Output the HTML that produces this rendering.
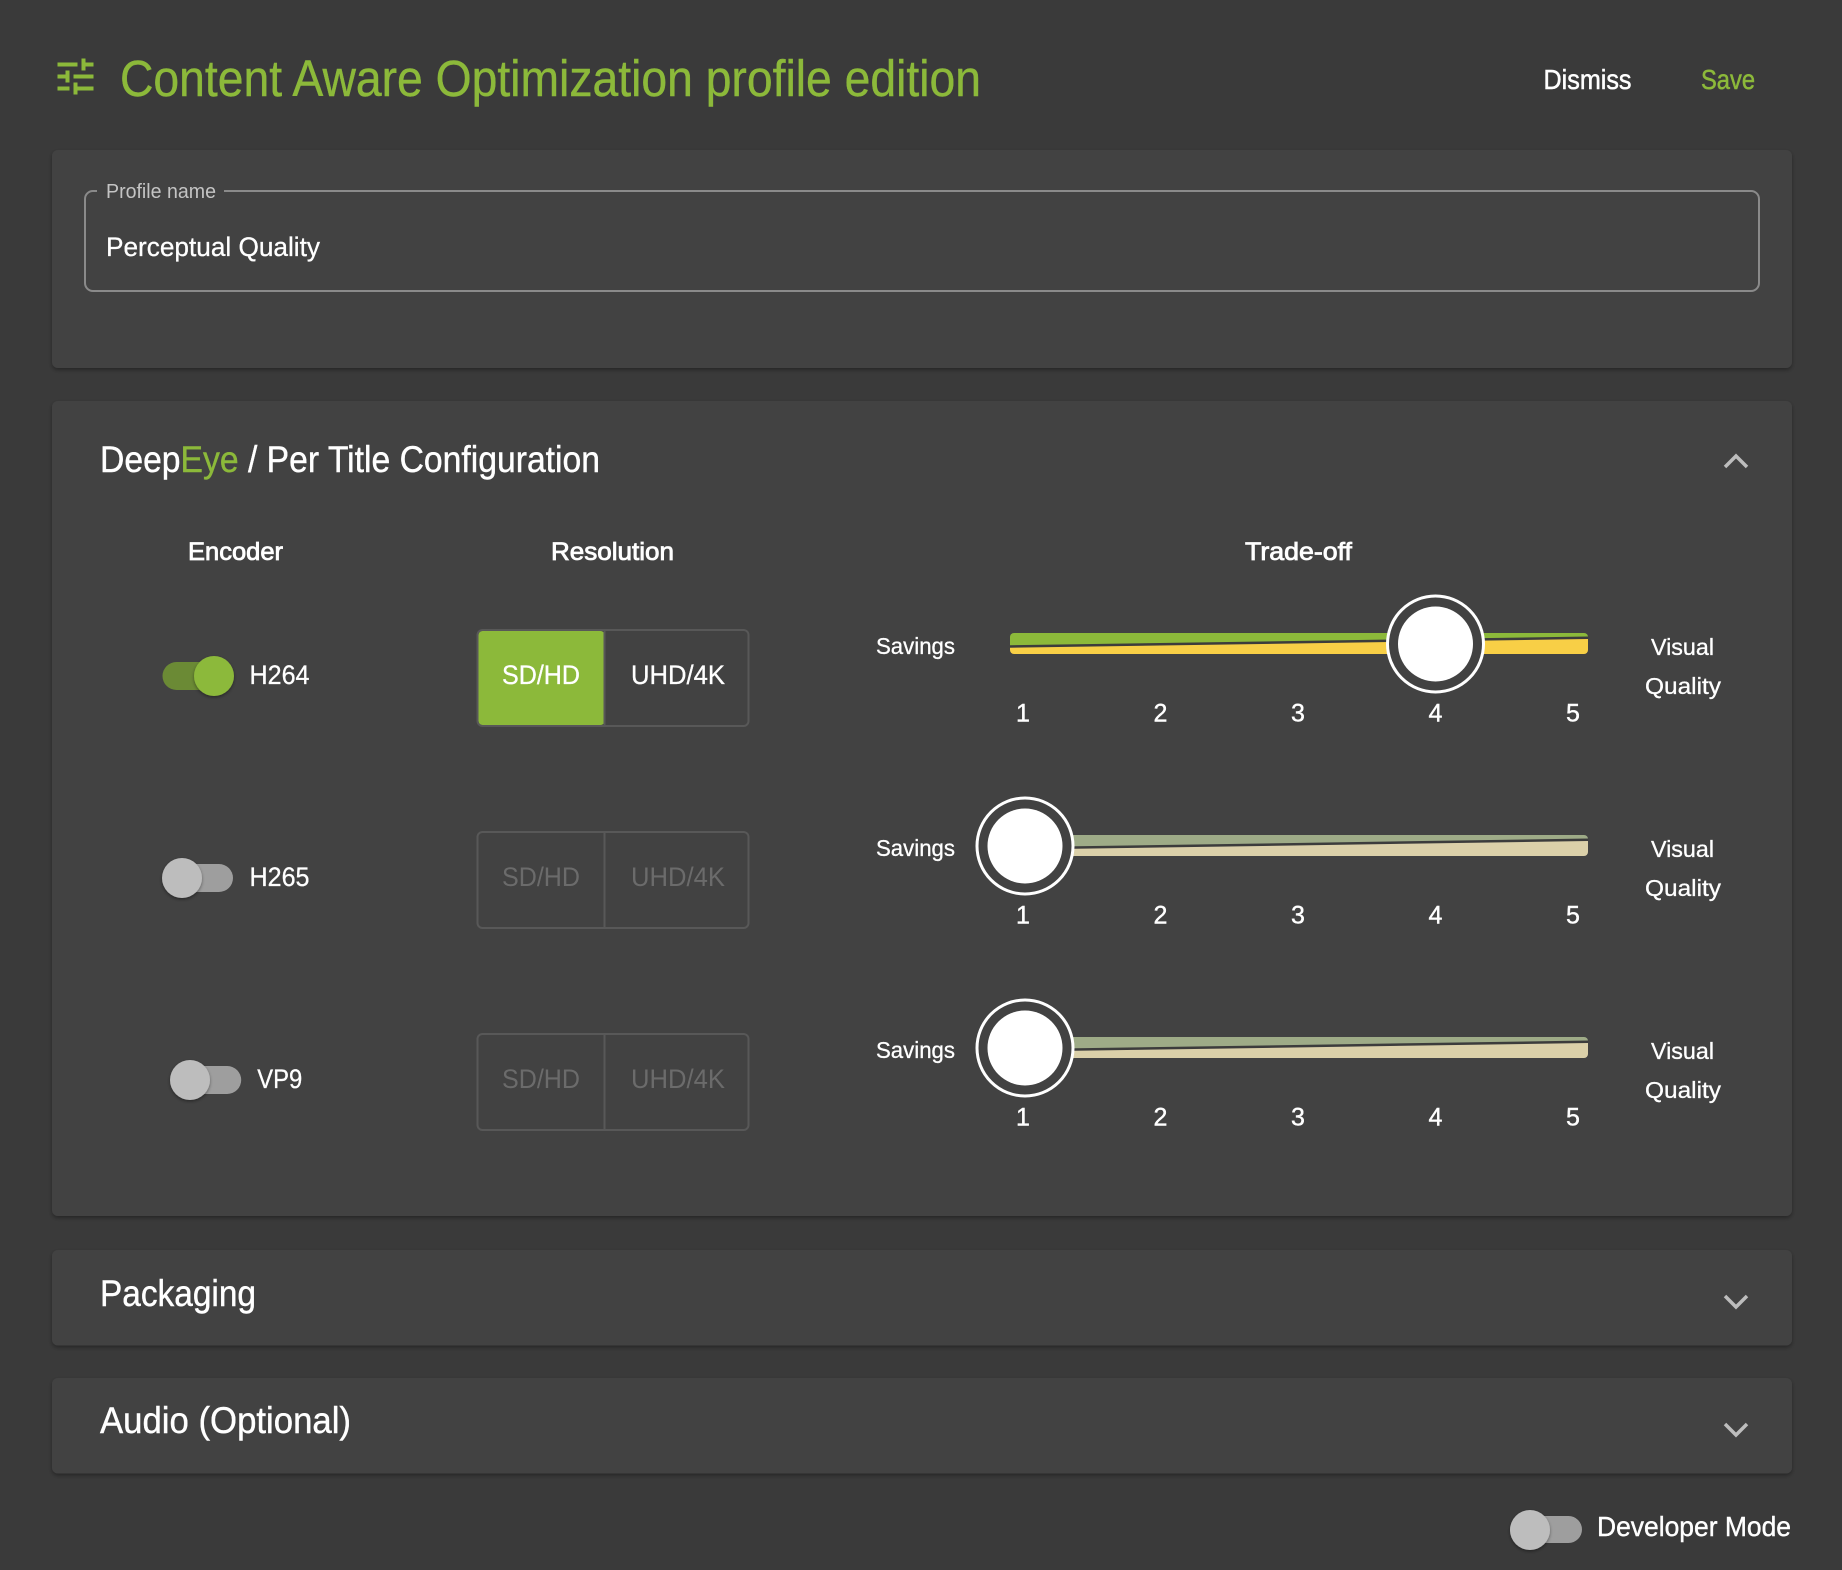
<!DOCTYPE html>
<html><head><meta charset="utf-8">
<style>html,body{margin:0;padding:0;background:#3a3a3a;}svg{display:block}</style>
</head>
<body>
<svg width="1842" height="1570" viewBox="0 0 1842 1570" xmlns="http://www.w3.org/2000/svg" font-family="'Liberation Sans', sans-serif">
<defs>
  <filter id="sh" x="-5%" y="-20%" width="110%" height="140%">
    <feDropShadow dx="0" dy="2" stdDeviation="2" flood-color="#000" flood-opacity="0.35"/>
  </filter>
  <filter id="tsh" x="-50%" y="-50%" width="200%" height="200%">
    <feDropShadow dx="0" dy="1.5" stdDeviation="1.5" flood-color="#000" flood-opacity="0.4"/>
  </filter>
  <clipPath id="trk1"><rect x="1010" y="633" width="578" height="21" rx="4"/></clipPath>
  <clipPath id="trk2"><rect x="1010" y="835" width="578" height="21" rx="4"/></clipPath>
  <clipPath id="trk3"><rect x="1010" y="1037" width="578" height="21" rx="4"/></clipPath>
</defs>
<rect width="1842" height="1570" fill="#3a3a3a"/>

<!-- Header -->
<g transform="translate(51.5,52.5) scale(2)" fill="#8cb93a">
  <path d="M3 17v2h6v-2H3zM3 5v2h10V5H3zm10 16v-2h8v-2h-8v-2h-2v6h2zM7 9v2H3v2h4v2h2V9H7zm14 4v-2H11v2h10zm-6-4h2V7h4V5h-4V3h-2v6z"/>
</g>
<text x="120" y="96" font-size="51" fill="#8cb93a" stroke="#8cb93a" stroke-width="0.4" textLength="861" lengthAdjust="spacingAndGlyphs">Content Aware Optimization profile edition</text>
<text x="1543.5" y="89" font-size="28" fill="#ffffff" stroke="#ffffff" stroke-width="0.5" textLength="88" lengthAdjust="spacingAndGlyphs">Dismiss</text>
<text x="1701" y="89" font-size="28" fill="#8cb93a" stroke="#8cb93a" stroke-width="0.5" textLength="54" lengthAdjust="spacingAndGlyphs">Save</text>

<!-- Card 1 -->
<rect x="52" y="150" width="1740" height="218" rx="6" fill="#424242" filter="url(#sh)"/>
<rect x="85" y="191" width="1674" height="100" rx="8" fill="none" stroke="#8a8a8a" stroke-width="2"/>
<rect x="97" y="185" width="127" height="12" fill="#424242"/>
<text x="106" y="198" font-size="20" fill="#c4c4c4" textLength="110" lengthAdjust="spacingAndGlyphs">Profile name</text>
<text x="106" y="256" font-size="27" fill="#ffffff" stroke="#ffffff" stroke-width="0.3" textLength="214" lengthAdjust="spacingAndGlyphs">Perceptual Quality</text>

<!-- Card 2 -->
<rect x="52" y="401" width="1740" height="815" rx="6" fill="#424242" filter="url(#sh)"/>
<text x="100" y="472" font-size="37" fill="#ffffff" stroke="#ffffff" stroke-width="0.4" textLength="500" lengthAdjust="spacingAndGlyphs">Deep<tspan fill="#8cb93a" stroke="#8cb93a">Eye</tspan> / Per Title Configuration</text>
<polyline points="1725,467 1736,456 1747,467" fill="none" stroke="#bdbdbd" stroke-width="3.5"/>

<g stroke="#ffffff" stroke-width="0.8">
<text x="188" y="560" font-size="25" fill="#ffffff" textLength="95" lengthAdjust="spacingAndGlyphs">Encoder</text>
<text x="551" y="560" font-size="25" fill="#ffffff" textLength="123" lengthAdjust="spacingAndGlyphs">Resolution</text>
<text x="1245" y="560" font-size="25" fill="#ffffff" textLength="107" lengthAdjust="spacingAndGlyphs">Trade-off</text>
</g>

<!-- Row 1 -->
<rect x="162.5" y="662" width="70.5" height="28" rx="14" fill="#6b8a35"/>
<circle cx="214" cy="676" r="20" fill="#8cb93a" filter="url(#tsh)"/>
<text x="249.5" y="684" font-size="27" fill="#ffffff" stroke="#ffffff" stroke-width="0.3" textLength="60" lengthAdjust="spacingAndGlyphs">H264</text>
<rect x="478.5" y="631" width="126" height="94" rx="4" fill="#8cb93a"/>
<rect x="477.5" y="630" width="271" height="96" rx="5" fill="none" stroke="#585858" stroke-width="2"/>
<line x1="604.5" y1="631" x2="604.5" y2="725" stroke="#585858" stroke-width="2"/>
<text x="502" y="684" font-size="27" fill="#ffffff" stroke="#ffffff" stroke-width="0.3" textLength="78" lengthAdjust="spacingAndGlyphs">SD/HD</text>
<text x="631" y="684" font-size="27" fill="#ffffff" stroke="#ffffff" stroke-width="0.3" textLength="94" lengthAdjust="spacingAndGlyphs">UHD/4K</text>

<g stroke="#ffffff" stroke-width="0.3">
<text x="876" y="654" font-size="23" fill="#ffffff" textLength="79" lengthAdjust="spacingAndGlyphs">Savings</text>
<text x="1651" y="655" font-size="23" fill="#ffffff" textLength="63" lengthAdjust="spacingAndGlyphs">Visual</text>
<text x="1645" y="694" font-size="23" fill="#ffffff" textLength="76" lengthAdjust="spacingAndGlyphs">Quality</text>
</g>
<g clip-path="url(#trk1)">
  <polygon points="1010,633 1588,633 1588,637.8 1010,646.5" fill="#8cb93a"/>
  <polygon points="1010,646.5 1588,637.8 1588,654 1010,654" fill="#f8cf46"/>
  <line x1="1010" y1="646.5" x2="1588" y2="637.8" stroke="#3c3c3c" stroke-width="2.5"/>
</g>
<g font-size="25" fill="#ffffff" stroke="#ffffff" stroke-width="0.4" text-anchor="middle">
  <text x="1023" y="721.5">1</text><text x="1160.5" y="721.5">2</text><text x="1298" y="721.5">3</text><text x="1435.5" y="721.5">4</text><text x="1573" y="721.5">5</text>
</g>
<circle cx="1435.5" cy="644" r="48" fill="#424242" stroke="#ffffff" stroke-width="3"/>
<circle cx="1435.5" cy="644" r="37.5" fill="#ffffff"/>

<!-- Row 2 -->
<rect x="162.5" y="864" width="70.5" height="28" rx="14" fill="#9e9e9e"/>
<circle cx="182" cy="878" r="20" fill="#bdbdbd" filter="url(#tsh)"/>
<text x="249.5" y="886" font-size="27" fill="#ffffff" stroke="#ffffff" stroke-width="0.3" textLength="60" lengthAdjust="spacingAndGlyphs">H265</text>
<rect x="477.5" y="832" width="271" height="96" rx="5" fill="none" stroke="#585858" stroke-width="2"/>
<line x1="604.5" y1="833" x2="604.5" y2="927" stroke="#585858" stroke-width="2"/>
<text x="502" y="886" font-size="27" fill="#6b6b6b" textLength="78" lengthAdjust="spacingAndGlyphs">SD/HD</text>
<text x="631" y="886" font-size="27" fill="#6b6b6b" textLength="94" lengthAdjust="spacingAndGlyphs">UHD/4K</text>

<g stroke="#ffffff" stroke-width="0.3">
<text x="876" y="856" font-size="23" fill="#ffffff" textLength="79" lengthAdjust="spacingAndGlyphs">Savings</text>
<text x="1651" y="857" font-size="23" fill="#ffffff" textLength="63" lengthAdjust="spacingAndGlyphs">Visual</text>
<text x="1645" y="896" font-size="23" fill="#ffffff" textLength="76" lengthAdjust="spacingAndGlyphs">Quality</text>
</g>
<g clip-path="url(#trk2)">
  <polygon points="1010,835 1588,835 1588,839.8 1010,848.5" fill="#9eab87"/>
  <polygon points="1010,848.5 1588,839.8 1588,856 1010,856" fill="#dbd0a9"/>
  <line x1="1010" y1="848.5" x2="1588" y2="839.8" stroke="#3c3c3c" stroke-width="2.5"/>
</g>
<g font-size="25" fill="#ffffff" stroke="#ffffff" stroke-width="0.4" text-anchor="middle">
  <text x="1023" y="923.5">1</text><text x="1160.5" y="923.5">2</text><text x="1298" y="923.5">3</text><text x="1435.5" y="923.5">4</text><text x="1573" y="923.5">5</text>
</g>
<circle cx="1025" cy="846" r="48" fill="#424242" stroke="#ffffff" stroke-width="3"/>
<circle cx="1025" cy="846" r="37.5" fill="#ffffff"/>

<!-- Row 3 -->
<rect x="170.7" y="1066" width="70.5" height="28" rx="14" fill="#9e9e9e"/>
<circle cx="190" cy="1080" r="20" fill="#bdbdbd" filter="url(#tsh)"/>
<text x="257.3" y="1088" font-size="27" fill="#ffffff" stroke="#ffffff" stroke-width="0.3" textLength="45" lengthAdjust="spacingAndGlyphs">VP9</text>
<rect x="477.5" y="1034" width="271" height="96" rx="5" fill="none" stroke="#585858" stroke-width="2"/>
<line x1="604.5" y1="1035" x2="604.5" y2="1129" stroke="#585858" stroke-width="2"/>
<text x="502" y="1088" font-size="27" fill="#6b6b6b" textLength="78" lengthAdjust="spacingAndGlyphs">SD/HD</text>
<text x="631" y="1088" font-size="27" fill="#6b6b6b" textLength="94" lengthAdjust="spacingAndGlyphs">UHD/4K</text>

<g stroke="#ffffff" stroke-width="0.3">
<text x="876" y="1058" font-size="23" fill="#ffffff" textLength="79" lengthAdjust="spacingAndGlyphs">Savings</text>
<text x="1651" y="1059" font-size="23" fill="#ffffff" textLength="63" lengthAdjust="spacingAndGlyphs">Visual</text>
<text x="1645" y="1098" font-size="23" fill="#ffffff" textLength="76" lengthAdjust="spacingAndGlyphs">Quality</text>
</g>
<g clip-path="url(#trk3)">
  <polygon points="1010,1037 1588,1037 1588,1041.8 1010,1050.5" fill="#9eab87"/>
  <polygon points="1010,1050.5 1588,1041.8 1588,1058 1010,1058" fill="#dbd0a9"/>
  <line x1="1010" y1="1050.5" x2="1588" y2="1041.8" stroke="#3c3c3c" stroke-width="2.5"/>
</g>
<g font-size="25" fill="#ffffff" stroke="#ffffff" stroke-width="0.4" text-anchor="middle">
  <text x="1023" y="1125.5">1</text><text x="1160.5" y="1125.5">2</text><text x="1298" y="1125.5">3</text><text x="1435.5" y="1125.5">4</text><text x="1573" y="1125.5">5</text>
</g>
<circle cx="1025" cy="1048" r="48" fill="#424242" stroke="#ffffff" stroke-width="3"/>
<circle cx="1025" cy="1048" r="37.5" fill="#ffffff"/>

<!-- Card 3 -->
<rect x="52" y="1250" width="1740" height="95.5" rx="6" fill="#424242" filter="url(#sh)"/>
<text x="100" y="1306" font-size="37" fill="#ffffff" stroke="#ffffff" stroke-width="0.4" textLength="156" lengthAdjust="spacingAndGlyphs">Packaging</text>
<polyline points="1725,1296 1736,1307 1747,1296" fill="none" stroke="#bdbdbd" stroke-width="3.5"/>

<!-- Card 4 -->
<rect x="52" y="1378" width="1740" height="95.5" rx="6" fill="#424242" filter="url(#sh)"/>
<text x="100" y="1433" font-size="37" fill="#ffffff" stroke="#ffffff" stroke-width="0.4" textLength="251" lengthAdjust="spacingAndGlyphs">Audio (Optional)</text>
<polyline points="1725,1424 1736,1435 1747,1424" fill="none" stroke="#bdbdbd" stroke-width="3.5"/>

<!-- Developer mode -->
<rect x="1510" y="1516" width="72" height="27" rx="13.5" fill="#9e9e9e"/>
<circle cx="1530" cy="1530" r="20" fill="#bdbdbd" filter="url(#tsh)"/>
<text x="1597" y="1536" font-size="28" fill="#ffffff" stroke="#ffffff" stroke-width="0.4" textLength="194" lengthAdjust="spacingAndGlyphs">Developer Mode</text>
</svg>
</body></html>
